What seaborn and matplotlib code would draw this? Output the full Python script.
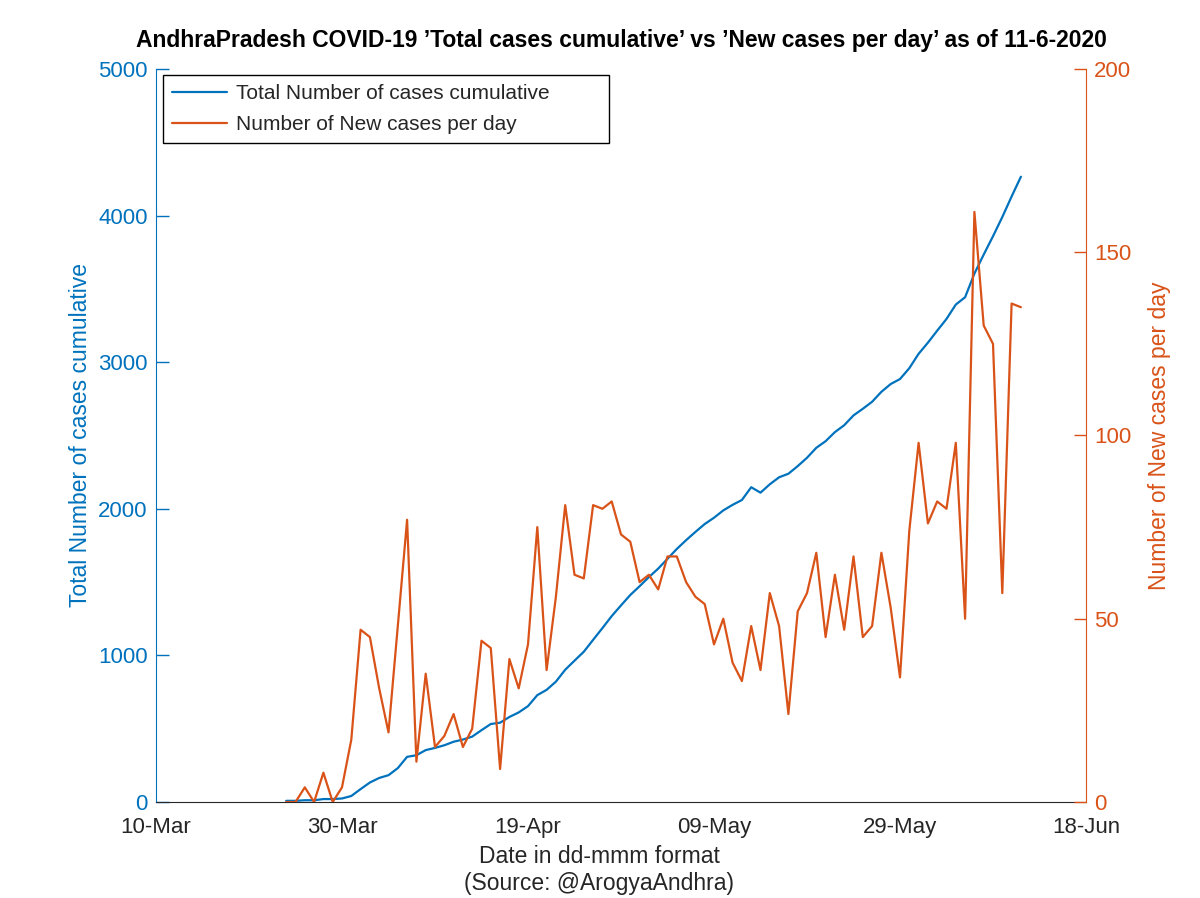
import matplotlib
matplotlib.use("Agg")
import numpy as np
import pandas as pd
import matplotlib.pyplot as plt
import matplotlib.dates as mdates
import seaborn as sns

# Daily values, 24-Mar-2020 .. 11-Jun-2020
dates = pd.date_range("2020-03-24", "2020-06-11", freq="D")

total_cases = [
    8, 8, 12, 12, 20, 20, 24, 41, 88, 133,
    164, 183, 231, 308, 319, 354, 369, 387, 411, 426,
    446, 490, 532, 541, 580, 611, 654, 729, 765, 821,
    902, 964, 1025, 1106, 1186, 1268, 1341, 1412, 1472, 1534,
    1592, 1659, 1726, 1786, 1842, 1896, 1939, 1989, 2027, 2060,
    2147, 2110, 2167, 2215, 2239, 2291, 2348, 2416, 2461, 2523,
    2570, 2637, 2682, 2730, 2798, 2851, 2885, 2959, 3057, 3133,
    3215, 3295, 3393, 3443, 3604, 3734, 3859, 3990, 4130, 4265,
]

new_cases = [
    0, 0, 4, 0, 8, 0, 4, 17, 47, 45,
    31, 19, 48, 77, 11, 35, 15, 18, 24, 15,
    20, 44, 42, 9, 39, 31, 43, 75, 36, 56,
    81, 62, 61, 81, 80, 82, 73, 71, 60, 62,
    58, 67, 67, 60, 56, 54, 43, 50, 38, 33,
    48, 36, 57, 48, 24, 52, 57, 68, 45, 62,
    47, 67, 45, 48, 68, 53, 34, 74, 98, 76,
    82, 80, 98, 50, 161, 130, 125, 57, 136, 135,
]

x_ticks = pd.date_range("2020-03-10", "2020-06-18", freq="20D")
left_ticks = [0, 1000, 2000, 3000, 4000, 5000]
right_ticks = [0, 50, 100, 150, 200]

blue = "#0072BD"
orange = "#D95319"
dark = "#262626"

sns.set_style("white")
plt.rcParams["font.family"] = ["Liberation Sans", "DejaVu Sans"]

fig = plt.figure(figsize=(12, 8.98), dpi=100)
ax = fig.add_axes([0.13, 0.1069, 0.775, 0.8163])
ax2 = ax.twinx()

sns.lineplot(x=dates, y=total_cases, ax=ax, color=blue, linewidth=1.6,
             label="Total Number of cases cumulative")
sns.lineplot(x=dates, y=new_cases, ax=ax2, color=orange, linewidth=1.6,
             label="Number of New cases per day")

ax.set_xlim(x_ticks[0], x_ticks[-1])
ax.set_xticks(x_ticks)
ax.xaxis.set_major_formatter(mdates.DateFormatter("%d-%b"))
ax.set_ylim(0, 5000)
ax.set_yticks(left_ticks)
ax2.set_ylim(0, 200)
ax2.set_yticks(right_ticks)

for a in (ax, ax2):
    a.spines["top"].set_visible(False)
    a.grid(False)

ax.spines["left"].set_color(blue)
ax.spines["bottom"].set_color(dark)
ax2.spines["right"].set_color(orange)
ax2.spines["left"].set_visible(False)
ax2.spines["bottom"].set_visible(False)
ax.spines["right"].set_visible(False)

ax.tick_params(axis="x", direction="in", length=9, width=1, colors=dark,
               labelsize=16, pad=11, top=False)
ax.tick_params(axis="y", direction="in", length=9, width=1, colors=blue,
               labelsize=16, pad=6)
ax2.tick_params(axis="y", direction="in", length=9, width=1, colors=orange,
                labelsize=16, pad=6)

ax.set_xlabel("Date in dd-mmm format\n(Source: @ArogyaAndhra)", fontsize=16.5,
              color=dark, linespacing=1.25)
ax.xaxis.set_label_coords((599 - 156) / 930, -0.058)
ax.xaxis.label.set_va("top")
ax.set_ylabel("Total Number of cases cumulative", fontsize=16.5, color=blue, labelpad=4)
ax2.set_ylabel("Number of New cases per day", fontsize=16.5, color=orange, labelpad=12)

ax.set_title("AndhraPradesh COVID-19 \u2019Total cases cumulative\u2019 vs \u2019New cases per day\u2019 as of 11-6-2020",
             fontsize=16.5, fontweight="bold", color="black", pad=16)

# single legend with both lines, box stretched like the reference
h1, l1 = ax.get_legend_handles_labels()
h2, l2 = ax2.get_legend_handles_labels()
ax.get_legend().remove()
ax2.get_legend().remove()
leg_w = (609 - 163) / 930
leg_h = (142 - 75) / 733
leg = ax2.legend(h1 + h2, l1 + l2, loc="upper left", mode="expand",
                 bbox_to_anchor=((163 - 156) / 930, (802 - 142) / 733, leg_w, leg_h),
                 fontsize=15, frameon=True, fancybox=False, edgecolor="black",
                 framealpha=1, handlelength=2.6, handletextpad=0.45,
                 borderpad=0.45, labelspacing=0.55, borderaxespad=0)
leg.get_frame().set_linewidth(1.0)

fig.savefig("out.png", dpi=100)
